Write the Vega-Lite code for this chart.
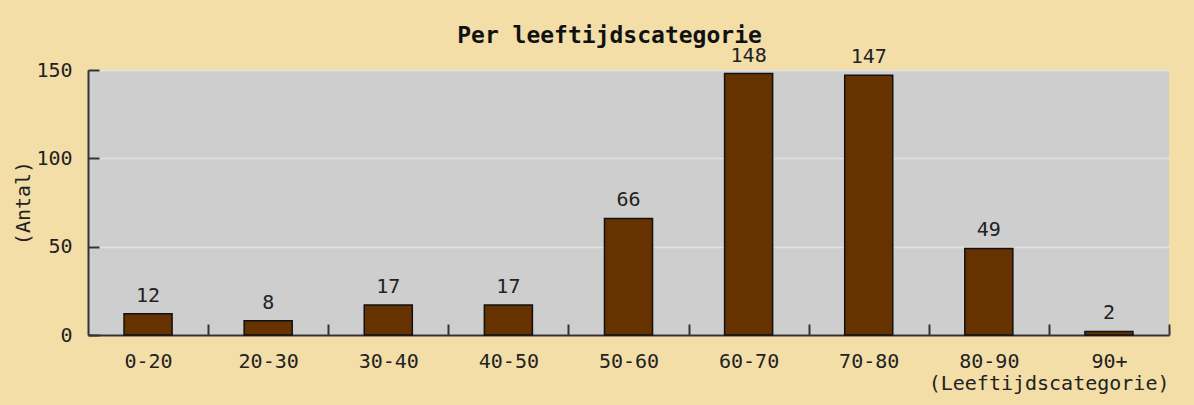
{
  "$schema": "https://vega.github.io/schema/vega-lite/v6.json",
  "autosize": {"type": "none"},
  "padding": {"left": 88, "top": 70, "right": 25, "bottom": 70},
  "width": 1081,
  "height": 265,
  "background": "#f3dea8",
  "title": {
    "text": "Per leeftijdscategorie",
    "font": "DejaVu Sans Mono",
    "fontSize": 23,
    "fontWeight": "bold",
    "color": "#111111",
    "anchor": "middle",
    "frame": "group",
    "dx": -19,
    "offset": -2
  },
  "data": {
    "values": [
      {"categorie": "0-20", "antal": 12},
      {"categorie": "20-30", "antal": 8},
      {"categorie": "30-40", "antal": 17},
      {"categorie": "40-50", "antal": 17},
      {"categorie": "50-60", "antal": 66},
      {"categorie": "60-70", "antal": 148},
      {"categorie": "70-80", "antal": 147},
      {"categorie": "80-90", "antal": 49},
      {"categorie": "90+", "antal": 2}
    ]
  },
  "encoding": {
    "x": {
      "field": "categorie",
      "type": "nominal",
      "sort": null,
      "scale": {"paddingInner": 0.6, "paddingOuter": 0.3},
      "axis": {
        "title": "(Leeftijdscategorie)",
        "titleAnchor": "end",
        "titleAlign": "right",
        "titleFont": "DejaVu Sans Mono",
        "titleFontSize": 20,
        "titleFontWeight": "normal",
        "titleColor": "#222222",
        "titlePadding": 2,
        "labelAngle": 0,
        "labelFont": "DejaVu Sans Mono",
        "labelFontSize": 20,
        "labelColor": "#222222",
        "labelPadding": 27,
        "tickOffset": 60,
        "labelOffset": -60,
        "tickSize": -11,
        "tickWidth": 2,
        "tickColor": "#333333",
        "domainColor": "#333333",
        "domainWidth": 2,
        "grid": false
      }
    },
    "y": {
      "field": "antal",
      "type": "quantitative",
      "scale": {"domain": [0, 150], "nice": false},
      "axis": {
        "title": "(Antal)",
        "titleFont": "DejaVu Sans Mono",
        "titleFontSize": 20,
        "titleFontWeight": "normal",
        "titleColor": "#222222",
        "titlePadding": 2,
        "values": [0, 50, 100, 150],
        "labelFont": "DejaVu Sans Mono",
        "labelFontSize": 20,
        "labelColor": "#222222",
        "labelPadding": 27,
        "tickSize": -11,
        "tickWidth": 2,
        "tickColor": "#333333",
        "domainColor": "#333333",
        "domainWidth": 2,
        "grid": true,
        "gridColor": "#e2e2e2",
        "gridWidth": 1.5
      }
    }
  },
  "layer": [
    {
      "mark": {"type": "bar", "color": "#663300", "stroke": "#111111", "strokeWidth": 1.5}
    },
    {
      "mark": {
        "type": "text",
        "baseline": "alphabetic",
        "dy": -12,
        "font": "DejaVu Sans Mono",
        "fontSize": 20,
        "color": "#222222"
      },
      "encoding": {"text": {"field": "antal", "type": "quantitative"}}
    }
  ],
  "config": {
    "view": {"fill": "#cecece", "stroke": null}
  }
}
